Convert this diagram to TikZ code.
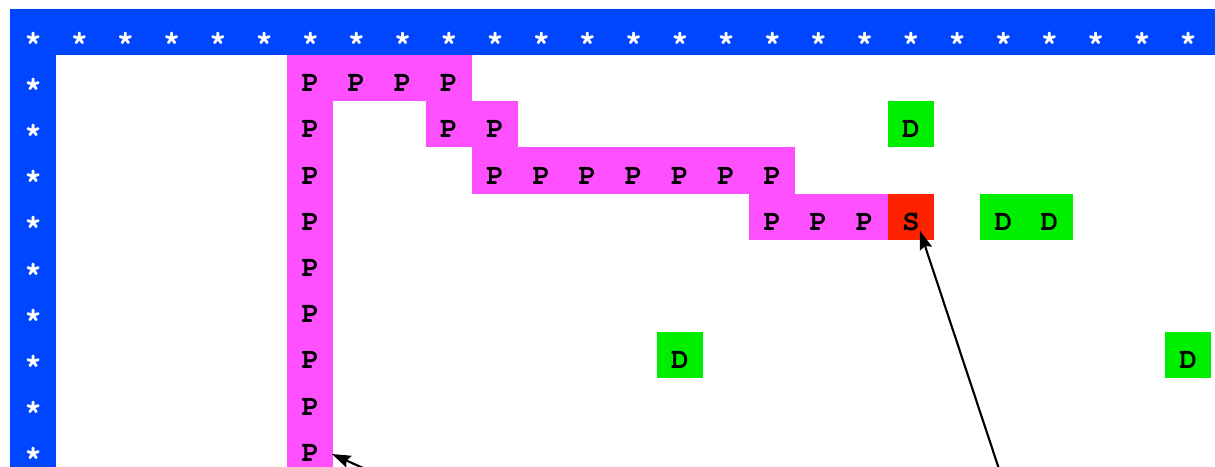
\documentclass[tikz,border=0pt]{standalone}
\usepackage[T1]{fontenc}
\usetikzlibrary{calc,arrows.meta}
\definecolor{wallblue}{RGB}{0,70,255}
\definecolor{pathpink}{RGB}{255,80,255}
\definecolor{startred}{RGB}{255,34,0}
\definecolor{dotgreen}{RGB}{0,238,0}
\tikzset{
  cellbox/.style={draw=none, minimum width=34.65pt, minimum height=34.65pt,
    inner sep=0pt, outer sep=0pt, text height=20.5pt, text depth=0pt,
    font=\fontfamily{pcr}\bfseries\fontsize{22}{22}\selectfont},
  wall/.style={cellbox, fill=wallblue, text=white},
  pathcell/.style={cellbox, fill=pathpink, text=black},
  startcell/.style={cellbox, fill=startred, text=black},
  dotcell/.style={cellbox, fill=dotgreen, text=black},
  pointer/.style={-{Stealth[length=14pt,width=9.5pt,inset=2pt]}, line width=1.6pt, black}
}
\begin{document}
\begin{tikzpicture}[x=0.75pt,y=-0.75pt]
\useasboundingbox (0,0) rectangle (1215,467);
\fill[white] (0,0) rectangle (1215,467);
\clip (0,0) rectangle (1215,467);
% cell (r,c) is centred at (10+46.2(c+0.5), 8.8+46.2(r+0.5))
\newcommand{\cellat}[4]{%
  \node[#1] (c-#2-#3) at ({10+46.2*(#3+0.5)},{8.8+46.2*(#2+0.5)}) {#4};}
% wall: top row (running on past the right edge) and left column
\fill[wallblue] (1190,8.8) rectangle (1215,55);
\foreach \c in {0,...,25} {\cellat{wall}{0}{\c}{*}}
\foreach \r in {1,...,9} {\cellat{wall}{\r}{0}{*}}
% path cells
\foreach \c in {6,7,8,9} {\cellat{pathcell}{1}{\c}{P}}
\foreach \c in {6,9,10} {\cellat{pathcell}{2}{\c}{P}}
\foreach \c in {6,10,11,12,13,14,15,16} {\cellat{pathcell}{3}{\c}{P}}
\foreach \c in {6,16,17,18} {\cellat{pathcell}{4}{\c}{P}}
\foreach \r in {5,...,9} {\cellat{pathcell}{\r}{6}{P}}
% start cell
\cellat{startcell}{4}{19}{S}
% dots
\cellat{dotcell}{2}{19}{D}
\cellat{dotcell}{4}{21}{D}
\cellat{dotcell}{4}{22}{D}
\cellat{dotcell}{7}{14}{D}
\cellat{dotcell}{7}{25}{D}
% pointers
\coordinate (tailA) at (372,472);
\coordinate (tailB) at (1000,472);
\draw[pointer] (tailA) -- ($(c-9-6.east)+(-1.5,6.3)$);
\draw[pointer] (tailB) -- ($(c-4-19.center)+(9.1,14.1)$);
\end{tikzpicture}
\end{document}
